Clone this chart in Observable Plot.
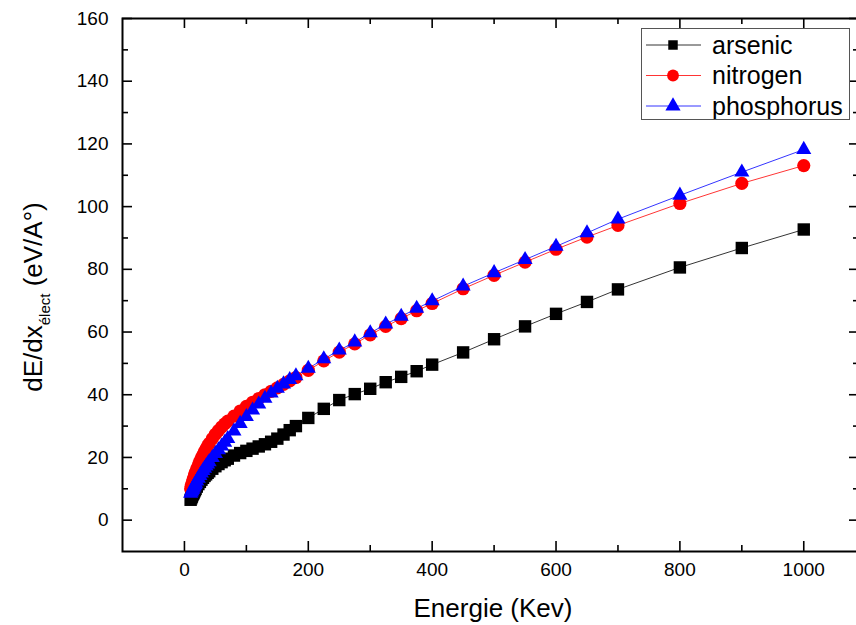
<!DOCTYPE html>
<html><head><meta charset="utf-8">
<script src="https://cdn.jsdelivr.net/npm/d3@7"></script>
<script src="https://cdn.jsdelivr.net/npm/@observablehq/plot@0.6"></script>
<style>
body{margin:0;background:#fff;overflow:hidden}
#wrap{position:relative;width:856px;height:625px;font-family:"Liberation Sans",Arial,sans-serif;color:#000}
#ytitle{position:absolute;left:35px;top:297px;transform:translate(-50%,-50%) rotate(-90deg);white-space:nowrap;font-size:26px}
#ytitle sub{font-size:15px;vertical-align:-8px}
#xtitle{position:absolute;left:493px;top:608px;transform:translate(-50%,-50%);white-space:nowrap;font-size:26px}
#legend{position:absolute;left:641px;top:28px;width:207px;height:90px;border:1px solid #555;background:#fff}
</style></head><body><div id="wrap"></div>
<script>
const energies = [10,11,12,13,14,15,16,17,18,20,22.5,25,27.5,30,32.5,35,37.5,40,45,50,55,60,65,70,80,90,100,110,120,130,140,150,160,170,180,200,225,250,275,300,325,350,375,400,450,500,550,600,650,700,800,900,1000];
const arsenic = [6.5,7,7.5,8,8.4,8.8,9.2,9.6,10,10.7,11.5,12.2,12.9,13.5,14.1,14.6,15.1,15.6,16.4,17.2,17.9,18.5,19.1,19.6,20.6,21.4,22.1,22.8,23.5,24.2,25,26,27.3,28.7,30,32.6,35.5,38.3,40.2,41.9,44,45.7,47.5,49.6,53.5,57.7,61.8,65.8,69.6,73.6,80.6,86.8,92.7];
const nitrogen = [10,10.8,11.5,12.2,12.9,13.5,14.1,14.7,15.3,16.4,17.6,18.8,19.9,20.9,21.9,22.8,23.7,24.5,26,27.4,28.6,29.7,30.7,31.6,33.2,34.8,36.3,37.6,38.8,40,41.1,42.2,43.3,44.4,45.5,47.8,50.8,53.6,56.2,59.1,61.8,64.3,66.8,69.1,73.8,78.1,82.3,86.4,90.3,94,101,107.4,113.1];
const phosphorus = [8.5,8.9,9.3,9.7,10.1,10.5,10.9,11.3,11.7,12.4,13.3,14.2,15,15.8,16.5,17.2,17.9,18.6,19.9,21.2,22.4,23.6,24.8,26,28.4,30.8,33,35.1,37,38.8,40.5,42,43.4,44.8,46,48.4,51.4,54.2,56.8,59.7,62.5,65,67.5,69.9,74.6,78.9,83.1,87.3,91.6,96,103.6,111,118.2];
const seriesNames = ["arsenic","nitrogen","phosphorus"];
const xMajor = [0,200,400,600,800,1000];
const xMinor = [100,300,500,700,900];
const yMajor = [0,20,40,60,80,100,120,140,160];
const yMinor = [10,30,50,70,90,110,130,150];
const xTitle = "Energie (Kev)";

const W = 856, H = 625, mL = 122, mR = -3, mT = 18, mB = 74;
const xDom = [-100, 1090], yDom = [-10, 160];
const pxX = (W - mL - mR) / (xDom[1] - xDom[0]);
const pxY = (H - mT - mB) / (yDom[1] - yDom[0]);

const colors = {arsenic:"#000000", nitrogen:"#ff0000", phosphorus:"#0000ff"};
const symbols = {arsenic:"square", nitrogen:"circle", phosphorus:"triangle"};
const radii = {arsenic:7, nitrogen:6.6, phosphorus:5.6};
const values = {arsenic, nitrogen, phosphorus};
const rows = name => energies.map((e,i)=>({e, v: values[name][i]}));

const marks = [];
for (const n of seriesNames) {
  marks.push(Plot.line(rows(n), {x:"e", y:"v", stroke: colors[n], strokeWidth: 0.8}));
}
for (const n of seriesNames) {
  marks.push(Plot.dot(rows(n), {x:"e", y:"v", symbol: symbols[n], r: radii[n], fill: colors[n], stroke: "none"}));
}
// inward tick marks: length given in pixels, converted to data units
const tk = {stroke: "#000", strokeWidth: 1.6};
const xTicks = (data, len) => [
  Plot.ruleX(data, {x: d => d, y1: yDom[0], y2: yDom[0] + len / pxY, ...tk}),
  Plot.ruleX(data, {x: d => d, y1: yDom[1], y2: yDom[1] - len / pxY, ...tk})
];
const yTicks = (data, len) => [
  Plot.ruleY(data, {y: d => d, x1: xDom[0], x2: xDom[0] + len / pxX, ...tk}),
  Plot.ruleY(data, {y: d => d, x1: xDom[1], x2: xDom[1] - len / pxX, ...tk})
];
marks.push(
  Plot.axisX({ticks: xMajor, tickSize: 0, tickPadding: 11, fontSize: 19, tickFormat: d3.format("d"), label: null}),
  Plot.axisY({ticks: yMajor, tickSize: 0, tickPadding: 14, fontSize: 19, tickFormat: d3.format("d"), label: null}),
  ...xTicks(xMajor, 10), ...xTicks(xMinor, 6),
  ...yTicks(yMajor, 10), ...yTicks(yMinor, 6),
  Plot.frame({stroke: "#000", strokeWidth: 2})
);

const chart = Plot.plot({
  width: W, height: H,
  marginLeft: mL, marginRight: mR, marginTop: mT, marginBottom: mB,
  style: {fontFamily: "'Liberation Sans', Arial, sans-serif", color: "#000", background: "#fff", overflow: "visible"},
  x: {domain: xDom, label: null},
  y: {domain: yDom, label: null},
  marks
});
const wrap = document.getElementById("wrap");
wrap.appendChild(chart);

const yt = document.createElement("div");
yt.id = "ytitle";
yt.innerHTML = "dE/dx<sub>élect</sub> (eV/A°)";
wrap.appendChild(yt);
const xt = document.createElement("div");
xt.id = "xtitle";
xt.textContent = xTitle;
wrap.appendChild(xt);

// legend
const lg = document.createElement("div");
lg.id = "legend";
wrap.appendChild(lg);
const svg = d3.select(lg).append("svg").attr("width", 207).attr("height", 90);
const symMap = {square: d3.symbolSquare, circle: d3.symbolCircle, triangle: d3.symbolTriangle};
const legendSizes = {arsenic: 90, nitrogen: 110, phosphorus: 100};
seriesNames.forEach((n, i) => {
  const cy = 16 + i * 30.5;
  svg.append("line").attr("x1", 4).attr("x2", 59).attr("y1", cy).attr("y2", cy)
    .attr("stroke", colors[n]).attr("stroke-width", 0.8);
  svg.append("path").attr("d", d3.symbol(symMap[symbols[n]], legendSizes[n])())
    .attr("transform", `translate(31,${cy})`).attr("fill", colors[n]);
  svg.append("text").attr("x", 70).attr("y", cy).attr("dy", "0.35em")
    .attr("font-size", 25).attr("font-family", "'Liberation Sans', Arial, sans-serif")
    .text(n);
});
</script>
</body></html>
